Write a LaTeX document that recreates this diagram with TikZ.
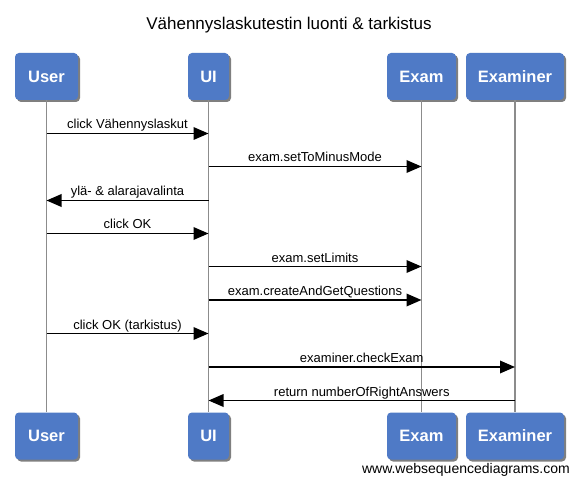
\documentclass[tikz,border=0pt]{standalone}
\usepackage{fontspec}
\setmainfont{Liberation Sans}
\usetikzlibrary{arrows.meta,shadows}
\definecolor{boxblue}{RGB}{79,122,198}
\definecolor{lifegray}{RGB}{140,140,140}
\begin{document}
\begin{tikzpicture}[x=1pt,y=-1pt,
  actor/.style={fill=boxblue, rounded corners=4pt, text=white, inner sep=0pt,
    font=\fontsize{16.5}{20}\selectfont\bfseries, minimum height=47pt,
    drop shadow={shadow xshift=2pt, shadow yshift=-2pt, opacity=0.5, fill=black}},
  life/.style={draw=lifegray, line width=1.8pt},
  msg/.style={draw=black, line width=1.8pt, -{Triangle[length=15pt,width=12.5pt]}},
  lbl/.style={anchor=base, yshift=4.5pt, inner sep=0pt, font=\fontsize{13}{15}\selectfont},
]
\useasboundingbox[fill=white] (0,0) rectangle (579,484);
\node[anchor=base, inner sep=0pt, font=\fontsize{17}{20}\selectfont] (title) at (289,30) {Vähennyslaskutestin luonti \& tarkistus};
% top actors
\node[actor, minimum width=63pt] (userT) at (46.5,76.5) {User};
\node[actor, minimum width=41pt] (uiT) at (208.5,76.5) {UI};
\node[actor, minimum width=69pt] (examT) at (421.5,76.5) {Exam};
\node[actor, minimum width=98pt] (examinerT) at (515,76.5) {Examiner};
% bottom actors
\node[actor, minimum width=63pt] (userB) at (46.5,436) {User};
\node[actor, minimum width=41pt] (uiB) at (208.5,436) {UI};
\node[actor, minimum width=69pt] (examB) at (421.5,436) {Exam};
\node[actor, minimum width=98pt] (examinerB) at (515,436) {Examiner};
% lifelines
\draw[life] (userT.south) -- (userB.north);
\draw[life] (uiT.south) -- (uiB.north);
\draw[life] (examT.south) -- (examB.north);
\draw[life] (examinerT.south) -- (examinerB.north);
% messages
\draw[msg] (userT.south |- 0,133.5) -- node[lbl]{click Vähennyslaskut} (uiT.south |- 0,133.5);
\draw[msg] (uiT.south |- 0,166.5) -- node[lbl]{exam.setToMinusMode} (examT.south |- 0,166.5);
\draw[msg] (uiT.south |- 0,200.5) -- node[lbl]{ylä- \& alarajavalinta} (userT.south |- 0,200.5);
\draw[msg] (userT.south |- 0,233.5) -- node[lbl]{click OK} (uiT.south |- 0,233.5);
\draw[msg] (uiT.south |- 0,266.5) -- node[lbl]{exam.setLimits} (examT.south |- 0,266.5);
\draw[msg] (uiT.south |- 0,300) -- node[lbl]{exam.createAndGetQuestions} (examT.south |- 0,300);
\draw[msg] (userT.south |- 0,333.5) -- node[lbl]{click OK (tarkistus)} (uiT.south |- 0,333.5);
\draw[msg] (uiT.south |- 0,367) -- node[lbl]{examiner.checkExam} (examinerT.south |- 0,367);
\draw[msg] (examinerT.south |- 0,400.5) -- node[lbl]{return numberOfRightAnswers} (uiT.south |- 0,400.5);
\node[anchor=base east, inner sep=0pt, font=\fontsize{14}{16}\selectfont] (wm) at (570,473) {www.websequencediagrams.com};
\end{tikzpicture}
\end{document}
